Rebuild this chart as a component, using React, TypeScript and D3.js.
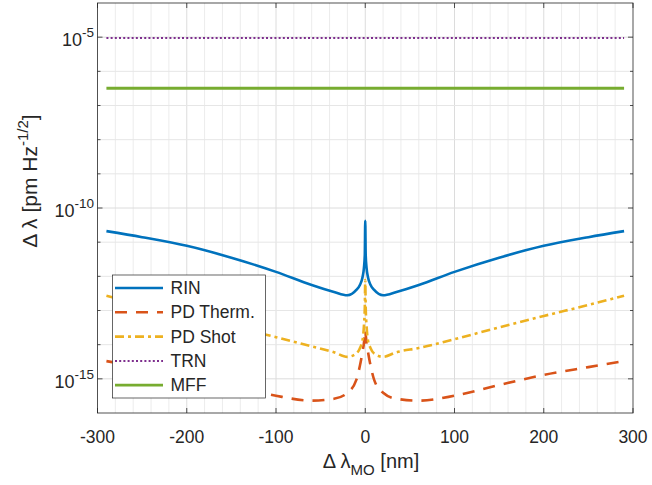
import React from "react";
import * as d3 from "d3";

const xNm = [-290, -250, -200, -150, -100, -60, -35, -20, -10, -6, -3, -1.5, -0.5, 0, 0.5, 1.5, 3, 6, 10, 20, 35, 60, 100, 150, 200, 250, 290];
const rin = [2.1e-11, 1.4e-11, 7.8e-12, 3.5e-12, 1.35e-12, 5.6e-13, 3.5e-13, 2.8e-13, 4.0e-13, 5.6e-13, 9.5e-13, 1.75e-12, 4.3e-12, 4.2e-11, 4.3e-12, 1.75e-12, 9.5e-13, 5.6e-13, 4.0e-13, 2.8e-13, 3.5e-13, 5.6e-13, 1.35e-12, 3.5e-12, 7.8e-12, 1.4e-11, 2.1e-11];
const pdTherm = [3.3e-15, 2.2e-15, 1.3e-15, 6.6e-16, 3.2e-16, 2.3e-16, 2.6e-16, 3.9e-16, 9.3e-16, 2.4e-15, 6.3e-15, 1.1e-14, 2.0e-14, 2.7e-14, 2.0e-14, 1.1e-14, 6.3e-15, 2.4e-15, 9.3e-16, 3.9e-16, 2.6e-16, 2.3e-16, 3.2e-16, 6.6e-16, 1.3e-15, 2.2e-15, 3.3e-15];
const pdShot = [2.7e-13, 1.45e-13, 6.9e-14, 3.3e-14, 1.66e-14, 8.9e-15, 6.0e-15, 4.4e-15, 5.5e-15, 7.9e-15, 1.38e-14, 3.5e-14, 1.26e-13, 7.8e-13, 1.26e-13, 3.5e-14, 1.38e-14, 7.9e-15, 5.5e-15, 4.4e-15, 6.0e-15, 8.0e-15, 1.45e-14, 3.2e-14, 6.9e-14, 1.45e-13, 2.7e-13];
const xEnds = [-290, 290];
const trn = [9.5e-6, 9.5e-6];
const mff = [3.2e-7, 3.2e-7];

const xTicks = [-300, -200, -100, 0, 100, 200, 300];
const yMajorExp = [-15, -10, -5];
const legendLabels = ["RIN", "PD Therm.", "PD Shot", "TRN", "MFF"];

const W = 652, H = 485;
const L = 97.5, R = 633, T = 3, B = 413;
const FONT = "'Liberation Sans', Arial, Helvetica, sans-serif";
const TXT = "#262626";

export default function App() {
  const x = d3.scaleLinear().domain([-300, 300]).range([L, R]);
  const y = d3.scaleLog().domain([1e-16, 1e-4]).range([B, T]);

  const series = [
    { name: legendLabels[0], xs: xNm, ys: rin, color: "#0072BD", dash: "", w: 2.6 },
    { name: legendLabels[1], xs: xNm, ys: pdTherm, color: "#D95319", dash: "12,9", w: 2.6 },
    { name: legendLabels[2], xs: xNm, ys: pdShot, color: "#EDB120", dash: "9,4,3,4", w: 2.6 },
    { name: legendLabels[3], xs: xEnds, ys: trn, color: "#7E2F8E", dash: "2,2.2", w: 2 },
    { name: legendLabels[4], xs: xEnds, ys: mff, color: "#77AC30", dash: "", w: 2.8 },
  ];

  const line = (xs: number[], ys: number[]) =>
    d3.line<number>().x((_, i) => x(xs[i])).y((_, i) => y(ys[i])).curve(d3.curveMonotoneX)(ys as any) || "";

  const minorX = d3.range(-300, 301, 20).filter((v) => v % 100 !== 0);
  const decades = d3.range(-15, -4);

  return (
    <svg width={W} height={H} style={{ display: "block", position: "absolute", left: 0, top: 0, background: "#fff" }}>
      <defs>
        <clipPath id="plotclip">
          <rect x={L} y={T} width={R - L} height={B - T} />
        </clipPath>
      </defs>
      <rect x={0} y={0} width={W} height={H} fill="#fff" />
      {/* grid */}
      <g>
        {minorX.map((v) => (
          <line key={"mx" + v} x1={x(v)} x2={x(v)} y1={T} y2={B} stroke="#ececec" strokeWidth={1} />
        ))}
        {xTicks.slice(1, -1).map((v) => (
          <line key={"gx" + v} x1={x(v)} x2={x(v)} y1={T} y2={B} stroke="#dcdcdc" strokeWidth={1} />
        ))}
        {decades.map((e) => (
          <line key={"gy" + e} x1={L} x2={R} y1={y(Math.pow(10, e))} y2={y(Math.pow(10, e))}
            stroke={yMajorExp.includes(e) ? "#dcdcdc" : "#e6e6e6"} strokeWidth={1} />
        ))}
      </g>
      {/* data */}
      <g clipPath="url(#plotclip)">
        {series.map((s) => (
          <path key={s.name} d={line(s.xs, s.ys)} fill="none" stroke={s.color} strokeWidth={s.w}
            strokeDasharray={s.dash || undefined} strokeLinejoin="round" />
        ))}
      </g>
      {/* axes box + ticks */}
      <rect x={L} y={T} width={R - L} height={B - T} fill="none" stroke="#262626" strokeWidth={0.8} />
      {xTicks.map((v) => (
        <g key={"xt" + v}>
          <line x1={x(v)} x2={x(v)} y1={B} y2={B - 5} stroke="#262626" strokeWidth={0.8} />
          <line x1={x(v)} x2={x(v)} y1={T} y2={T + 5} stroke="#262626" strokeWidth={0.8} />
          <text x={x(v)} y={443} textAnchor="middle" fontFamily={FONT} fontSize={17.5} fill={TXT}>{v}</text>
        </g>
      ))}
      {decades.map((e) => {
        const len = yMajorExp.includes(e) ? 5 : 3;
        const yy = y(Math.pow(10, e));
        return (
          <g key={"yt" + e}>
            <line x1={L} x2={L + len} y1={yy} y2={yy} stroke="#262626" strokeWidth={0.8} />
            <line x1={R} x2={R - len} y1={yy} y2={yy} stroke="#262626" strokeWidth={0.8} />
          </g>
        );
      })}
      {yMajorExp.map((e) => {
        const yy = y(Math.pow(10, e));
        return (
          <text key={"yl" + e} x={94} y={yy + 9} textAnchor="end" fontFamily={FONT} fontSize={18} fill={TXT}>
            <tspan>10</tspan>
            <tspan dy={-9} fontSize={13.5}>{e}</tspan>
          </text>
        );
      })}
      {/* axis labels */}
      <text x={371} y={468} textAnchor="middle" fontFamily={FONT} fontSize={20} fill={TXT}>
        <tspan>{"Δ λ"}</tspan>
        <tspan dy={7} fontSize={15}>MO</tspan>
        <tspan dy={-7}>{" [nm]"}</tspan>
      </text>
      <text transform="translate(37,181) rotate(-90)" textAnchor="middle" fontFamily={FONT} fontSize={21} fill={TXT}>
        <tspan>{"Δ λ [pm Hz"}</tspan>
        <tspan dy={-9} fontSize={15}>-1/2</tspan>
        <tspan dy={9}>]</tspan>
      </text>
      {/* legend */}
      <g>
        <rect x={112.5} y={275} width={153} height={123} fill="#fff" stroke="#262626" strokeWidth={0.7} />
        {series.map((s, i) => {
          const ly = 288 + i * 24.3;
          return (
            <g key={"lg" + s.name}>
              <line x1={115} x2={163} y1={ly} y2={ly} stroke={s.color} strokeWidth={s.w}
                strokeDasharray={s.dash || undefined} />
              <text x={170.5} y={ly + 6} fontFamily={FONT} fontSize={17.5} fill={TXT}>{s.name}</text>
            </g>
          );
        })}
      </g>
    </svg>
  );
}
